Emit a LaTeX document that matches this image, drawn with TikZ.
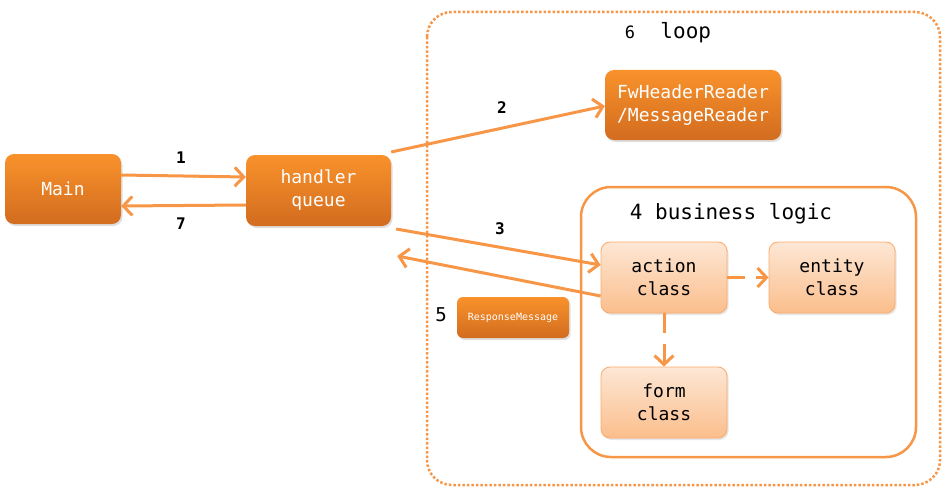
\documentclass[tikz,border=0pt]{standalone}
\usepackage{fontspec}
\setmonofont{DejaVu Sans Mono}
\usetikzlibrary{arrows.meta,shadows}
\definecolor{orline}{HTML}{F79646}
\definecolor{dtop}{HTML}{F9922B}
\definecolor{dbot}{HTML}{D26C1F}
\definecolor{ltop}{HTML}{FDE7D5}
\definecolor{lbot}{HTML}{FBBE8C}
\tikzset{
  darkbox/.style={rounded corners=9pt, top color=dtop, bottom color=dbot, draw=none,
    text=white, font=\ttfamily\fontsize{18}{23}\selectfont, align=center, inner sep=0pt,
    drop shadow={shadow xshift=1.5pt, shadow yshift=-2pt, opacity=0.25}},
  lightbox/.style={rounded corners=9pt, top color=ltop, bottom color=lbot, draw=orline!80, line width=0.8pt,
    text=black, font=\ttfamily\fontsize{18}{23}\selectfont, align=center, inner sep=0pt,
    minimum width=126pt, minimum height=71pt,
    drop shadow={shadow xshift=1.5pt, shadow yshift=-2pt, opacity=0.2}},
  conn/.style={draw=orline, line width=3pt, -{Straight Barb[length=9pt,width=19pt,line width=3pt]}},
  num/.style={font=\ttfamily\bfseries\fontsize{16}{18}\selectfont, text=black},
}
\begin{document}
\begin{tikzpicture}[x=1pt,y=-1pt]
\useasboundingbox (0,0) rectangle (945,495);
% loop box
\draw[orline, line width=2.5pt, dotted, rounded corners=25pt] (427,12) rectangle (940,485);
\node[font=\ttfamily\fontsize{21}{24}\selectfont] (looplbl) at (668,33) {{\fontsize{17}{20}\selectfont 6}\ \ loop};
% business logic box
\draw[orline, line width=2.5pt, rounded corners=30pt] (581,187) rectangle (916,457);
\node[font=\ttfamily\fontsize{21}{24}\selectfont] (bllbl) at (731,214) {4\ business logic};
% nodes
\node[darkbox, minimum width=116pt, minimum height=70pt] (main) at (63,189) {Main};
\node[darkbox, minimum width=145pt, minimum height=71pt] (hq) at (318.5,190.5) {handler\\queue};
\node[darkbox, minimum width=176pt, minimum height=70pt] (fw) at (693,105) {FwHeaderReader\\/MessageReader};
\node[darkbox, minimum width=112pt, minimum height=41pt, rounded corners=6pt, font=\ttfamily\fontsize{10}{12}\selectfont] (resp) at (513,317.5) {ResponseMessage};
\node[lightbox] (action) at (664,277.5) {action\\class};
\node[lightbox] (entity) at (832,277.5) {entity\\class};
\node[lightbox] (form) at (664,402.5) {form\\class};
% connectors
\draw[conn] ([yshift=14pt]main.east) -- ([yshift=13.5pt]hq.west);
\draw[conn] ([yshift=-14.5pt]hq.west) -- ([yshift=-17pt]main.east);
\draw[conn] ([yshift=38.5pt]hq.east) -- ([yshift=-1pt]fw.west);
\draw[conn] ([xshift=5pt,yshift=-38.5pt]hq.east) -- ([yshift=12.5pt]action.west);
\draw[conn] ([yshift=-18.5pt]action.west) -- ([xshift=6pt,yshift=-65.5pt]hq.east);
\draw[conn, dash pattern=on 18pt off 11pt] (action.east) -- (entity.west);
\draw[conn, dash pattern=on 20pt off 11pt] (action.south) -- (form.north);
% numbers
\node[num] (n1) at (181,158) {1};
\node[num] (n7) at (181,224) {7};
\node[num] (n2) at (502,108) {2};
\node[num] (n3) at (500,229) {3};
\node[num, font=\ttfamily\fontsize{19}{21}\selectfont] (n5) at (441,315) {5};
\end{tikzpicture}
\end{document}
